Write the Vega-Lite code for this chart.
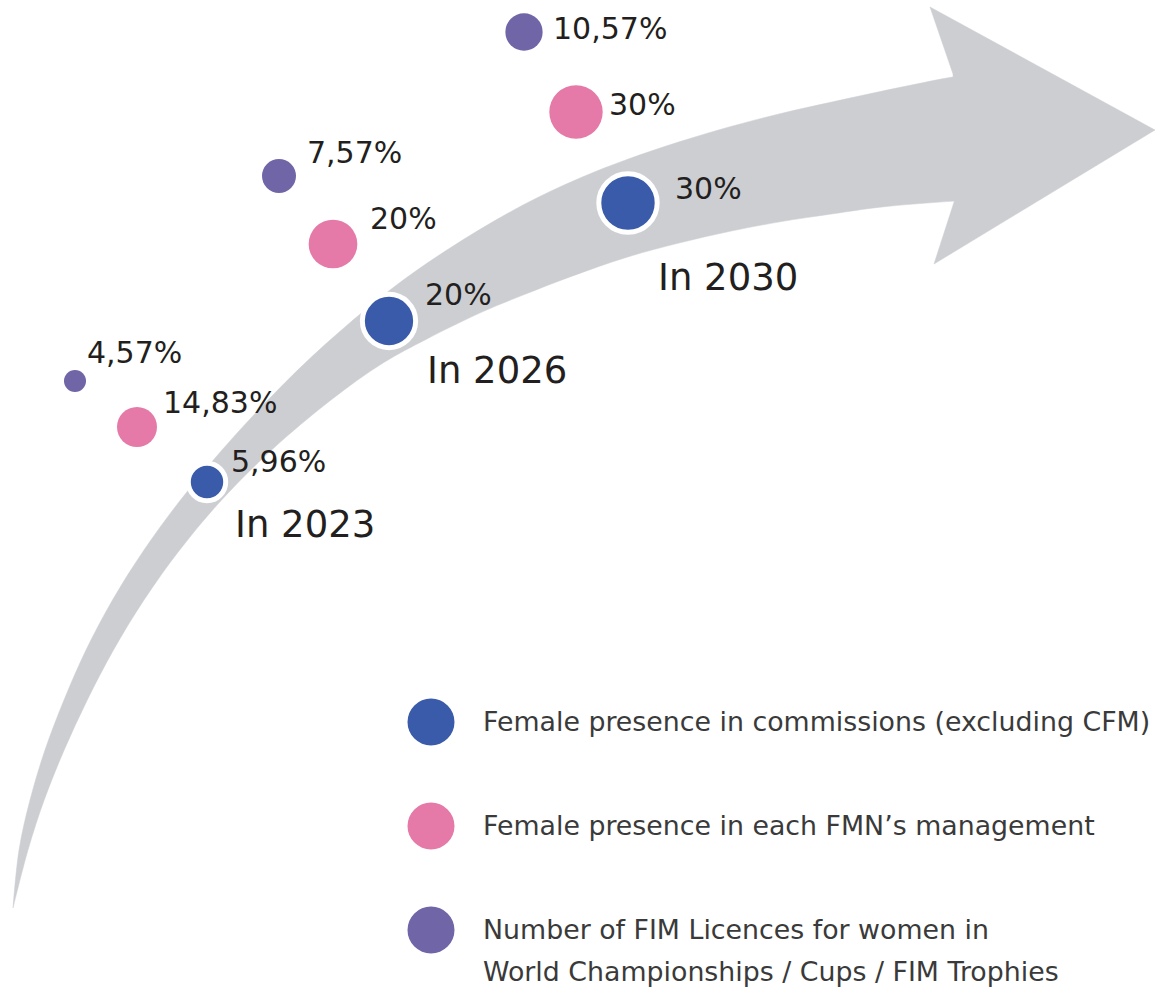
{
  "$schema": "https://vega.github.io/schema/vega-lite/v6.json",
  "autosize": {"type": "fit", "contains": "padding"},
  "width": 1164,
  "height": 991,
  "padding": 0,
  "background": "white",
  "config": {"view": {"stroke": null}},
  "datasets": {
    "arrow": [
      {"part": "band", "i": 0, "x": 13, "y": 908}, {"part": "band", "i": 1, "x": 19, "y": 850}, {"part": "band", "i": 2, "x": 30, "y": 800},
      {"part": "band", "i": 3, "x": 45, "y": 750}, {"part": "band", "i": 4, "x": 64, "y": 700}, {"part": "band", "i": 5, "x": 86, "y": 650},
      {"part": "band", "i": 6, "x": 112.5, "y": 600}, {"part": "band", "i": 7, "x": 144, "y": 550}, {"part": "band", "i": 8, "x": 180.5, "y": 500},
      {"part": "band", "i": 9, "x": 222, "y": 450}, {"part": "band", "i": 10, "x": 268, "y": 400}, {"part": "band", "i": 11, "x": 319, "y": 350},
      {"part": "band", "i": 12, "x": 390, "y": 290}, {"part": "band", "i": 13, "x": 450, "y": 248}, {"part": "band", "i": 14, "x": 523, "y": 205},
      {"part": "band", "i": 15, "x": 580, "y": 178}, {"part": "band", "i": 16, "x": 627, "y": 159.5}, {"part": "band", "i": 17, "x": 680, "y": 141.6},
      {"part": "band", "i": 18, "x": 730, "y": 126.7}, {"part": "band", "i": 19, "x": 780, "y": 113.7}, {"part": "band", "i": 20, "x": 833, "y": 101.8},
      {"part": "band", "i": 21, "x": 880, "y": 91.6}, {"part": "band", "i": 22, "x": 920, "y": 83.3}, {"part": "band", "i": 23, "x": 953, "y": 77},
      {"part": "band", "i": 24, "x": 1020, "y": 70}, {"part": "band", "i": 25, "x": 1020, "y": 198}, {"part": "band", "i": 26, "x": 955, "y": 201.1},
      {"part": "band", "i": 27, "x": 880, "y": 207.2}, {"part": "band", "i": 28, "x": 833, "y": 213.8}, {"part": "band", "i": 29, "x": 780, "y": 221.8},
      {"part": "band", "i": 30, "x": 730, "y": 231.3}, {"part": "band", "i": 31, "x": 680, "y": 242.8}, {"part": "band", "i": 32, "x": 627, "y": 257.2},
      {"part": "band", "i": 33, "x": 570, "y": 276.9}, {"part": "band", "i": 34, "x": 523, "y": 295.1}, {"part": "band", "i": 35, "x": 483, "y": 311.6},
      {"part": "band", "i": 36, "x": 427, "y": 338.9}, {"part": "band", "i": 37, "x": 383, "y": 363}, {"part": "band", "i": 38, "x": 331, "y": 400},
      {"part": "band", "i": 39, "x": 271.6, "y": 450}, {"part": "band", "i": 40, "x": 221.6, "y": 500}, {"part": "band", "i": 41, "x": 179.7, "y": 550},
      {"part": "band", "i": 42, "x": 144, "y": 600}, {"part": "band", "i": 43, "x": 113.5, "y": 650}, {"part": "band", "i": 44, "x": 87.3, "y": 700},
      {"part": "band", "i": 45, "x": 64.2, "y": 750}, {"part": "band", "i": 46, "x": 44.2, "y": 800}, {"part": "band", "i": 47, "x": 28, "y": 850},
      {"part": "band", "i": 48, "x": 13, "y": 908},
      {"part": "head", "i": 0, "x": 953, "y": 74}, {"part": "head", "i": 1, "x": 930, "y": 7}, {"part": "head", "i": 2, "x": 1155, "y": 130},
      {"part": "head", "i": 3, "x": 934, "y": 264}, {"part": "head", "i": 4, "x": 955, "y": 199}, {"part": "head", "i": 5, "x": 953, "y": 74}
    ],
    "points": [
      {"series": "Female presence in commissions (excluding CFM)", "year": 2023, "value": 5.96, "label": "5,96%", "x": 207, "y": 482, "lx": 231, "ly": 472},
      {"series": "Female presence in commissions (excluding CFM)", "year": 2026, "value": 20, "label": "20%", "x": 389, "y": 321, "lx": 425, "ly": 305},
      {"series": "Female presence in commissions (excluding CFM)", "year": 2030, "value": 30, "label": "30%", "x": 628, "y": 203, "lx": 675, "ly": 199},
      {"series": "Female presence in each FMN’s management", "year": 2023, "value": 14.83, "label": "14,83%", "x": 137, "y": 427, "lx": 163, "ly": 413},
      {"series": "Female presence in each FMN’s management", "year": 2026, "value": 20, "label": "20%", "x": 333, "y": 244, "lx": 370, "ly": 229},
      {"series": "Female presence in each FMN’s management", "year": 2030, "value": 30, "label": "30%", "x": 576, "y": 112, "lx": 609, "ly": 115},
      {"series": "Number of FIM Licences for women in World Championships / Cups / FIM Trophies", "year": 2023, "value": 4.57, "label": "4,57%", "x": 75, "y": 381, "lx": 87, "ly": 363},
      {"series": "Number of FIM Licences for women in World Championships / Cups / FIM Trophies", "year": 2026, "value": 7.57, "label": "7,57%", "x": 279, "y": 176, "lx": 307, "ly": 163},
      {"series": "Number of FIM Licences for women in World Championships / Cups / FIM Trophies", "year": 2030, "value": 10.57, "label": "10,57%", "x": 524, "y": 32, "lx": 553, "ly": 39}
    ],
    "years": [
      {"text": "In 2023", "x": 235, "y": 537},
      {"text": "In 2026", "x": 427, "y": 383},
      {"text": "In 2030", "x": 658, "y": 290}
    ],
    "legend": [
      {"series": "Female presence in commissions (excluding CFM)", "text": "Female presence in commissions (excluding CFM)", "x": 431, "y": 722, "tx": 483, "ty": 731},
      {"series": "Female presence in each FMN’s management", "text": "Female presence in each FMN’s management", "x": 431, "y": 826, "tx": 483, "ty": 835},
      {"series": "Number of FIM Licences for women in World Championships / Cups / FIM Trophies", "text": "Number of FIM Licences for women in\nWorld Championships / Cups / FIM Trophies", "x": 431, "y": 930, "tx": 483, "ty": 939}
    ]
  },
  "resolve": {"scale": {"size": "independent"}},
  "layer": [
    {
      "data": {"name": "arrow"},
      "transform": [{"filter": "datum.part === 'band'"}],
      "mark": {"type": "line", "fill": "#cdced2", "stroke": "#cdced2", "strokeWidth": 0.5, "interpolate": "catmull-rom"},
      "encoding": {
        "x": {"field": "x", "type": "quantitative", "scale": {"domain": [0, 1164], "nice": false, "zero": false}, "axis": null},
        "y": {"field": "y", "type": "quantitative", "scale": {"domain": [0, 991], "nice": false, "zero": false, "reverse": true}, "axis": null},
        "order": {"field": "i", "type": "quantitative"}
      }
    },
    {
      "data": {"name": "arrow"},
      "transform": [{"filter": "datum.part === 'head'"}],
      "mark": {"type": "line", "fill": "#cdced2", "stroke": "#cdced2", "strokeWidth": 0.5, "interpolate": "linear"},
      "encoding": {
        "x": {"field": "x", "type": "quantitative", "scale": {"domain": [0, 1164], "nice": false, "zero": false}, "axis": null},
        "y": {"field": "y", "type": "quantitative", "scale": {"domain": [0, 991], "nice": false, "zero": false, "reverse": true}, "axis": null},
        "order": {"field": "i", "type": "quantitative"}
      }
    },
    {
      "data": {"name": "points"},
      "transform": [{"filter": "datum.series === 'Female presence in commissions (excluding CFM)'"}],
      "mark": {"type": "circle", "opacity": 1, "stroke": "white", "strokeWidth": 5},
      "encoding": {
        "x": {"field": "x", "type": "quantitative", "scale": {"domain": [0, 1164], "nice": false, "zero": false}, "axis": null},
        "y": {"field": "y", "type": "quantitative", "scale": {"domain": [0, 991], "nice": false, "zero": false, "reverse": true}, "axis": null},
        "color": {"field": "series", "type": "nominal", "legend": null, "scale": {"domain": ["Female presence in commissions (excluding CFM)", "Female presence in each FMN’s management", "Number of FIM Licences for women in World Championships / Cups / FIM Trophies"], "range": ["#3a5ba9", "#e57aa9", "#7065a7"]}},
        "size": {"field": "value", "type": "quantitative", "legend": null, "scale": {"domain": [5.96, 20, 30], "range": [1400, 2840, 3410]}}
      }
    },
    {
      "data": {"name": "points"},
      "transform": [{"filter": "datum.series === 'Female presence in each FMN’s management'"}],
      "mark": {"type": "circle", "opacity": 1},
      "encoding": {
        "x": {"field": "x", "type": "quantitative", "scale": {"domain": [0, 1164], "nice": false, "zero": false}, "axis": null},
        "y": {"field": "y", "type": "quantitative", "scale": {"domain": [0, 991], "nice": false, "zero": false, "reverse": true}, "axis": null},
        "color": {"field": "series", "type": "nominal", "legend": null},
        "size": {"field": "value", "type": "quantitative", "legend": null, "scale": {"domain": [14.83, 20, 30], "range": [1600, 2372, 2852]}}
      }
    },
    {
      "data": {"name": "points"},
      "transform": [{"filter": "datum.series === 'Number of FIM Licences for women in World Championships / Cups / FIM Trophies'"}],
      "mark": {"type": "circle", "opacity": 1},
      "encoding": {
        "x": {"field": "x", "type": "quantitative", "scale": {"domain": [0, 1164], "nice": false, "zero": false}, "axis": null},
        "y": {"field": "y", "type": "quantitative", "scale": {"domain": [0, 991], "nice": false, "zero": false, "reverse": true}, "axis": null},
        "color": {"field": "series", "type": "nominal", "legend": null},
        "size": {"field": "value", "type": "quantitative", "legend": null, "scale": {"domain": [4.57, 7.57, 10.57], "range": [484, 1156, 1391]}}
      }
    },
    {
      "data": {"name": "points"},
      "mark": {"type": "text", "align": "left", "baseline": "alphabetic", "font": "DejaVu Sans", "fontSize": 30, "color": "#231f20"},
      "encoding": {
        "x": {"field": "lx", "type": "quantitative", "scale": {"domain": [0, 1164], "nice": false, "zero": false}, "axis": null},
        "y": {"field": "ly", "type": "quantitative", "scale": {"domain": [0, 991], "nice": false, "zero": false, "reverse": true}, "axis": null},
        "text": {"field": "label"}
      }
    },
    {
      "data": {"name": "years"},
      "mark": {"type": "text", "align": "left", "baseline": "alphabetic", "font": "DejaVu Sans", "fontSize": 37, "color": "#231f20"},
      "encoding": {
        "x": {"field": "x", "type": "quantitative", "scale": {"domain": [0, 1164], "nice": false, "zero": false}, "axis": null},
        "y": {"field": "y", "type": "quantitative", "scale": {"domain": [0, 991], "nice": false, "zero": false, "reverse": true}, "axis": null},
        "text": {"field": "text"}
      }
    },
    {
      "data": {"name": "legend"},
      "mark": {"type": "circle", "opacity": 1, "size": 2209},
      "encoding": {
        "x": {"field": "x", "type": "quantitative", "scale": {"domain": [0, 1164], "nice": false, "zero": false}, "axis": null},
        "y": {"field": "y", "type": "quantitative", "scale": {"domain": [0, 991], "nice": false, "zero": false, "reverse": true}, "axis": null},
        "color": {"field": "series", "type": "nominal", "legend": null}
      }
    },
    {
      "data": {"name": "legend"},
      "mark": {"type": "text", "align": "left", "baseline": "alphabetic", "font": "DejaVu Sans", "fontSize": 26.8, "color": "#3a3a3a", "lineBreak": "\n", "lineHeight": 42},
      "encoding": {
        "x": {"field": "tx", "type": "quantitative", "scale": {"domain": [0, 1164], "nice": false, "zero": false}, "axis": null},
        "y": {"field": "ty", "type": "quantitative", "scale": {"domain": [0, 991], "nice": false, "zero": false, "reverse": true}, "axis": null},
        "text": {"field": "text"}
      }
    }
  ]
}
